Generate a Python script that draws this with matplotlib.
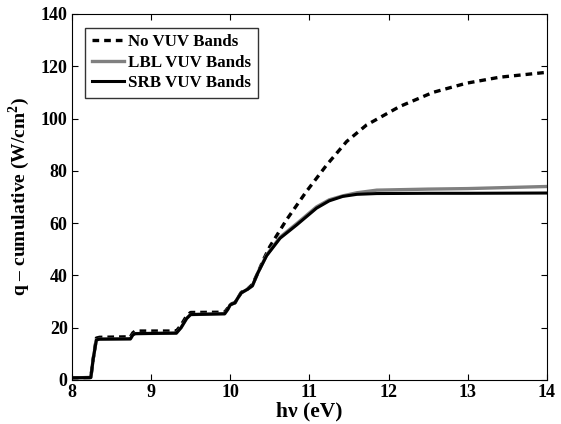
import matplotlib
matplotlib.use("Agg")
import matplotlib.pyplot as plt

# cumulative heat flux vs photon energy
ev_novuv = [8.0, 8.24, 8.27, 8.31, 8.35, 8.74, 8.77, 8.80, 9.32, 9.38, 9.45, 9.50,
            9.93, 9.97, 10.0, 10.06, 10.10, 10.14, 10.22, 10.28, 10.35, 10.42, 10.5,
            10.71, 10.96, 11.22, 11.47, 11.72, 12.14, 12.56, 12.98, 13.40, 14.0]
q_novuv = [0.8, 0.9, 8, 16, 16.3, 16.5, 18.0, 18.7, 18.7, 21, 24.5, 25.8,
           25.9, 27.5, 29, 29.5, 31.5, 33.5, 34.8, 36.5, 41, 46, 51,
           61.2, 72, 82.3, 91.2, 97.5, 104.6, 110, 113.5, 115.8, 117.7]

ev_band = [8.0, 8.24, 8.27, 8.31, 8.35, 8.74, 8.77, 8.80, 9.32, 9.38, 9.45, 9.50,
           9.93, 9.97, 10.0, 10.06, 10.10, 10.14, 10.22, 10.28, 10.35, 10.46,
           10.63, 10.84, 11.09, 11.25, 11.42, 11.6, 11.85, 12.5, 13.0, 14.0]
q_srb = [0.8, 0.9, 8, 15.3, 15.6, 15.7, 17.2, 17.7, 17.9, 20, 23.5, 25.0,
         25.3, 27, 28.7, 29.5, 31.5, 33.3, 34.7, 36, 41, 47.5,
         54.2, 59.3, 65.7, 68.5, 70.2, 71.0, 71.3, 71.4, 71.4, 71.5]
q_lbl = [0.8, 0.9, 8, 15.3, 15.6, 15.7, 17.2, 17.7, 17.9, 20, 23.5, 25.0,
         25.3, 27, 28.7, 29.5, 31.5, 33.3, 34.7, 36, 41, 47.8,
         54.6, 59.8, 66.2, 68.9, 70.4, 71.6, 72.6, 73.0, 73.2, 74.0]

plt.rcParams['font.family'] = ['Liberation Serif', 'DejaVu Serif']
plt.rcParams['font.weight'] = 'bold'
plt.rcParams['mathtext.fontset'] = 'custom'
plt.rcParams['mathtext.bf'] = 'Liberation Serif:bold'
plt.rcParams['mathtext.rm'] = 'Liberation Serif:bold'

fig = plt.figure(figsize=(5.61, 4.24), dpi=100)
ax = fig.add_axes([0.128, 0.104, 0.847, 0.863])

ax.plot(ev_novuv, q_novuv, color='black', lw=2.4, ls=(0, (2.0, 1.5)), label='No VUV Bands')
ax.plot(ev_band, q_lbl, color='#808080', lw=2.4, label='LBL VUV Bands')
ax.plot(ev_band, q_srb, color='black', lw=2.2, label='SRB VUV Bands')

ax.set_xlim(8, 14)
ax.set_ylim(0, 140)
ax.set_xticks(range(8, 15))
ax.set_yticks(range(0, 141, 20))
ax.tick_params(direction='in', top=True, right=True, labelsize=13, length=4, pad=3)
for lab in ax.get_xticklabels() + ax.get_yticklabels():
    lab.set_fontweight('bold')

ax.set_xlabel('h\u03bd (eV)', fontsize=15.5, fontweight='bold', labelpad=0)
ax.set_ylabel('q \u2013 cumulative (W/cm$^{\\mathrm{2}}$)', fontsize=14, fontweight='bold', labelpad=6)

leg = ax.legend(loc='upper left', frameon=True, fancybox=False,
                edgecolor='black', handlelength=1.9, handletextpad=0.2,
                borderaxespad=0.8, labelspacing=0.25, borderpad=0.4,
                prop={'weight': 'bold', 'size': 12.2})
leg.get_frame().set_linewidth(1.0)

fig.savefig('out.png', dpi=100)
